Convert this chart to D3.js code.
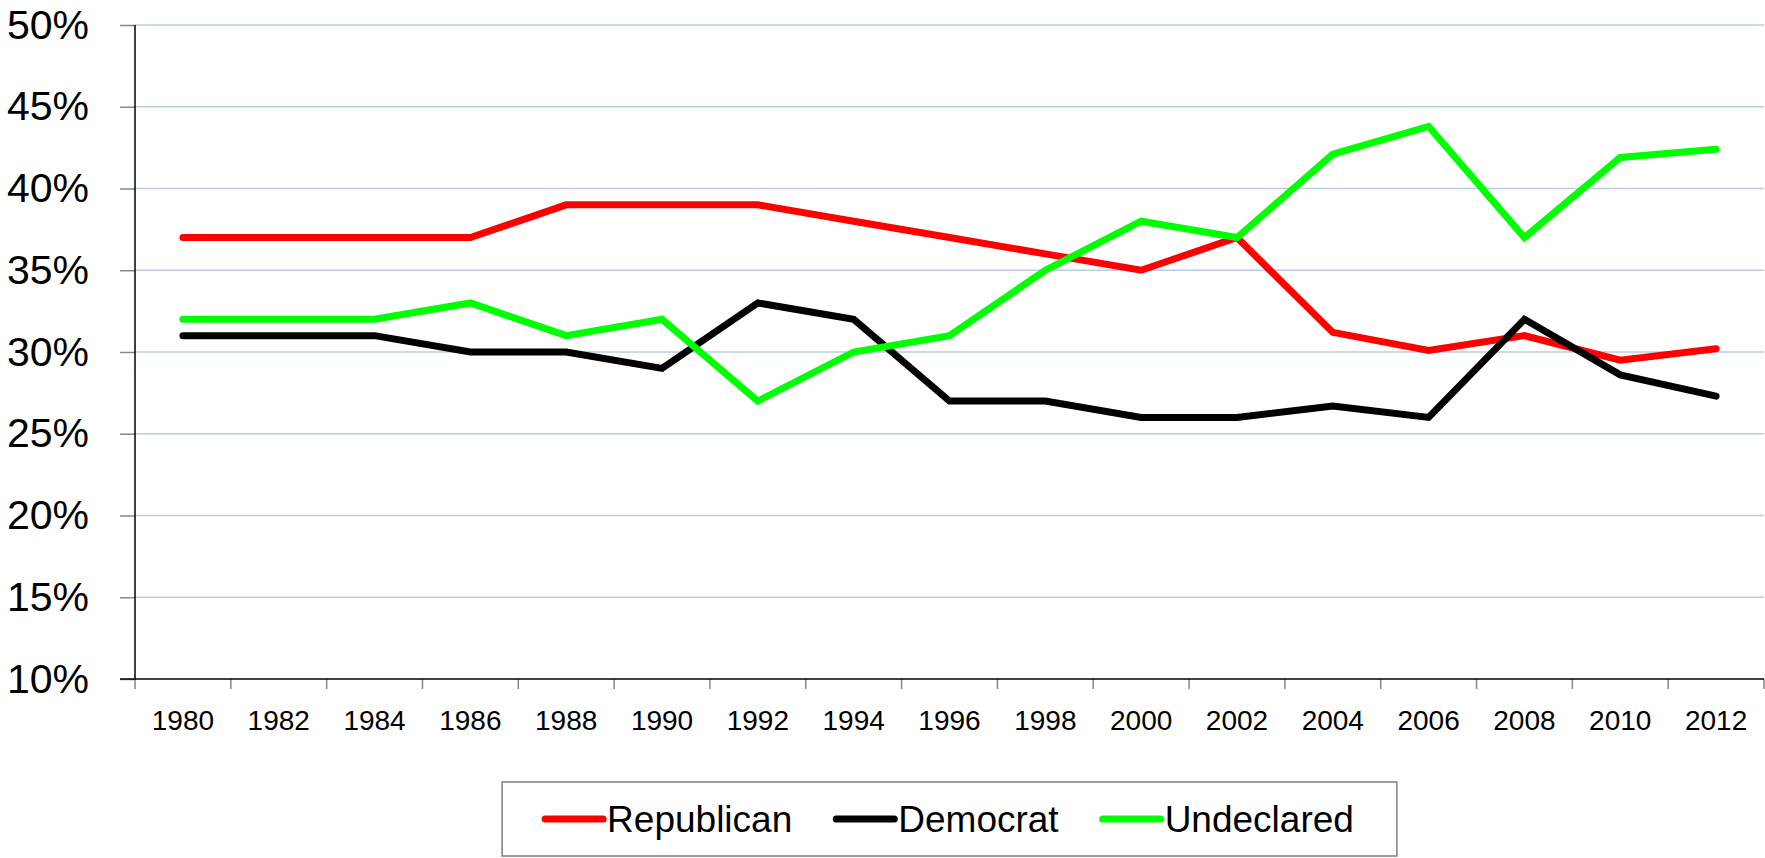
<!DOCTYPE html>
<meta charset="utf-8">
<style>

body {
  margin: 0;
  background: #fff;
}

text {
  font-family: "Liberation Sans", Arial, sans-serif;
  fill: #000;
}

</style>
<body>
<script src="https://cdnjs.cloudflare.com/ajax/libs/d3/7.8.5/d3.min.js"></script>
<script>

var years = ["1980", "1982", "1984", "1986", "1988", "1990", "1992", "1994", "1996",
             "1998", "2000", "2002", "2004", "2006", "2008", "2010", "2012"];

var republican = [37, 37, 37, 37, 39, 39, 39, 38, 37, 36, 35, 37, 31.2, 30.1, 31, 29.5, 30.2],
    democrat   = [31, 31, 31, 30, 30, 29, 33, 32, 27, 27, 26, 26, 26.7, 26, 32, 28.6, 27.3],
    undeclared = [32, 32, 32, 33, 31, 32, 27, 30, 31, 35, 38, 37, 42.1, 43.8, 37, 41.9, 42.4];

var yTicks = [10, 15, 20, 25, 30, 35, 40, 45, 50];

var seriesNames = ["Republican", "Democrat", "Undeclared"],
    seriesColors = ["#ff0000", "#000000", "#00ff00"],
    seriesValues = [republican, democrat, undeclared];

// note: "top" is taken by window.top, so plot edges get their own names
var width = 1765,
    height = 858,
    plotLeft = 135,
    plotRight = 1764,
    plotTop = 25,
    plotBottom = 679;

var svg = d3.select("body").append("svg")
    .attr("width", width)
    .attr("height", height);

var x = d3.scaleBand()
    .domain(years)
    .range([plotLeft, plotRight]);

var y = d3.scaleLinear()
    .domain([10, 50])
    .range([plotBottom, plotTop]);

// gridlines
svg.append("g")
  .selectAll("line")
  .data(yTicks.slice(1))
  .enter().append("line")
    .attr("x1", plotLeft)
    .attr("x2", plotRight)
    .attr("y1", function(d) { return y(d); })
    .attr("y2", function(d) { return y(d); })
    .attr("stroke", "#b9cde5")
    .attr("stroke-width", 1.5);

// y axis
var yAxis = svg.append("g")
    .attr("transform", "translate(" + plotLeft + ",0)")
    .call(d3.axisLeft(y).tickValues(yTicks).tickSize(15).tickPadding(31)
      .tickFormat(function(d) { return d + "%"; }));

yAxis.select(".domain").remove();
yAxis.selectAll(".tick line").attr("stroke", "#868686").attr("stroke-width", 1.5);
yAxis.selectAll(".tick text")
    .attr("fill", "#000")
    .style("font-size", "41px")
    .style("font-family", "'Liberation Sans', Arial, sans-serif");

svg.append("line")
    .attr("x1", plotLeft)
    .attr("x2", plotLeft)
    .attr("y1", plotTop)
    .attr("y2", plotBottom)
    .attr("stroke", "#000")
    .attr("stroke-width", 1.5);

// x axis, ticks sit between the categories
var bounds = years.map(function(d) { return x(d); }).concat([plotRight]);

svg.append("g")
  .selectAll("line")
  .data(bounds)
  .enter().append("line")
    .attr("x1", function(d) { return d; })
    .attr("x2", function(d) { return d; })
    .attr("y1", plotBottom)
    .attr("y2", plotBottom + 10)
    .attr("stroke", "#868686")
    .attr("stroke-width", 1.5);

svg.append("line")
    .attr("x1", plotLeft - 15)
    .attr("x2", plotRight)
    .attr("y1", plotBottom)
    .attr("y2", plotBottom)
    .attr("stroke", "#000")
    .attr("stroke-width", 1.5);

svg.append("g")
  .selectAll("text")
  .data(years)
  .enter().append("text")
    .attr("x", function(d) { return x(d) + x.bandwidth() / 2; })
    .attr("y", 730)
    .attr("text-anchor", "middle")
    .style("font-size", "28px")
    .text(function(d) { return d; });

// lines
var line = d3.line()
    .x(function(d, i) { return x(years[i]) + x.bandwidth() / 2; })
    .y(function(d) { return y(d); });

svg.append("g")
  .selectAll("path")
  .data(seriesValues)
  .enter().append("path")
    .attr("d", line)
    .attr("fill", "none")
    .attr("stroke", function(d, i) { return seriesColors[i]; })
    .attr("stroke-width", 7)
    .attr("stroke-linecap", "round")
    .attr("stroke-linejoin", "miter");

// legend
var legend = svg.append("g");

var box = legend.append("rect")
    .attr("y", 782)
    .attr("height", 74)
    .attr("fill", "#fff")
    .attr("stroke", "#7f7f7f")
    .attr("stroke-width", 1.5);

var cursor = 0,
    items = legend.append("g");

seriesNames.forEach(function(name, i) {
  var item = items.append("g").attr("transform", "translate(" + cursor + ",0)");
  item.append("line")
      .attr("x1", 0)
      .attr("x2", 58)
      .attr("y1", 819)
      .attr("y2", 819)
      .attr("stroke", seriesColors[i])
      .attr("stroke-width", 7)
      .attr("stroke-linecap", "round");
  var t = item.append("text")
      .attr("x", 62)
      .attr("y", 832)
      .style("font-size", "37px")
      .text(name);
  cursor += 62 + t.node().getComputedTextLength() + 44;
});

var itemsWidth = cursor - 44,
    center = (plotLeft + plotRight) / 2,
    start = center - itemsWidth / 2;

items.attr("transform", "translate(" + start + ",0)");
box.attr("x", start - 43).attr("width", itemsWidth + 86);

</script>
